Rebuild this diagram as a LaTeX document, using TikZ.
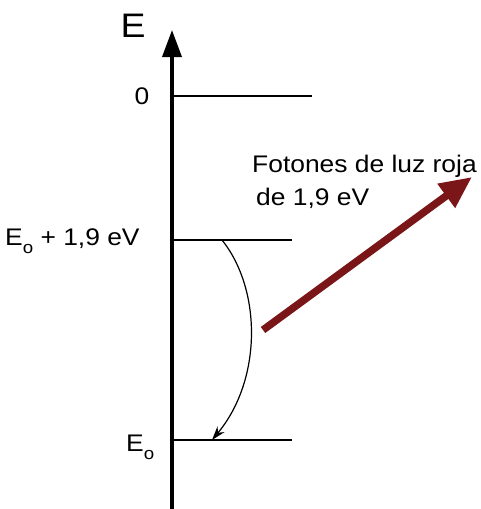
\documentclass[tikz,border=0pt]{standalone}
\usepackage{fontspec}
\setmainfont{Liberation Sans}[FakeStretch=1.1]
\usepackage{tikz}
\usetikzlibrary{arrows.meta,positioning,calc}
\definecolor{enink}   {HTML}{000000}
\definecolor{enphoton}{HTML}{7A1518}
\newcommand{\enidx}{\raisebox{-8pt}{\fontsize{17pt}{18pt}\selectfont o}}
\tikzset{
  enaxis/.style={draw=enink, line width=3.6pt, -{Triangle[length=27pt,width=19pt]}},
  enzero/.style={draw=enink, line width=2.8pt},
  enlevel/.style={draw=enink, line width=1.1pt},
  entrans/.style={draw=enink, line width=1.2pt, -{Stealth[length=14pt,width=9pt]}},
  enphot/.style={draw=enphoton, line width=7.5pt, -{Triangle[length=32pt,width=28pt]}},
  enlabel/.style={font=\fontsize{24pt}{26pt}\selectfont, inner sep=0pt},
}

\begin{document}
\begin{tikzpicture}[x=1pt,y=-1pt]
  \useasboundingbox (0,0) rectangle (481,509);
  % energy axis
  \coordinate (ax0) at (172,509);
  \coordinate (ax1) at (172,30);
  \draw[enaxis] (ax0) -- (ax1);
  \node[enlabel, font=\fontsize{34pt}{36pt}\selectfont] (elab) at (133,26) {E};
  % levels
  \coordinate (z0) at (170,96);   \coordinate (z1) at (312,96);
  \coordinate (u0) at (172,240);  \coordinate (u1) at (292,240);
  \coordinate (g0) at (172,440);  \coordinate (g1) at (292,440);
  \draw[enzero] (z0) -- (z1);
  \draw[enlevel] (u0) -- (u1);
  \draw[enlevel] (g0) -- (g1);
  \node[enlabel] (zlab) at (142,96) {0};
  \node[enlabel, anchor=base west] (ulab) at (5,245) {E\enidx\ + 1,9 eV};
  \node[enlabel, anchor=base west] (glab) at (126,451) {E\enidx};
  % transition
  \coordinate (t0) at (222,240);
  \coordinate (t1) at (212,440);
  \draw[entrans] (t0) .. controls (262,290) and (262,380) .. (t1);
  % emitted photon
  \coordinate (p0) at (263,330);
  \coordinate (p1) at (472,177);
  \draw[enphot] (p0) -- (p1);
  \node[enlabel, anchor=base west] (plab1) at (252,172) {Fotones de luz roja};
  \node[enlabel, anchor=base west] (plab2) at (256,205) {de 1,9 eV};
\end{tikzpicture}
\end{document}
